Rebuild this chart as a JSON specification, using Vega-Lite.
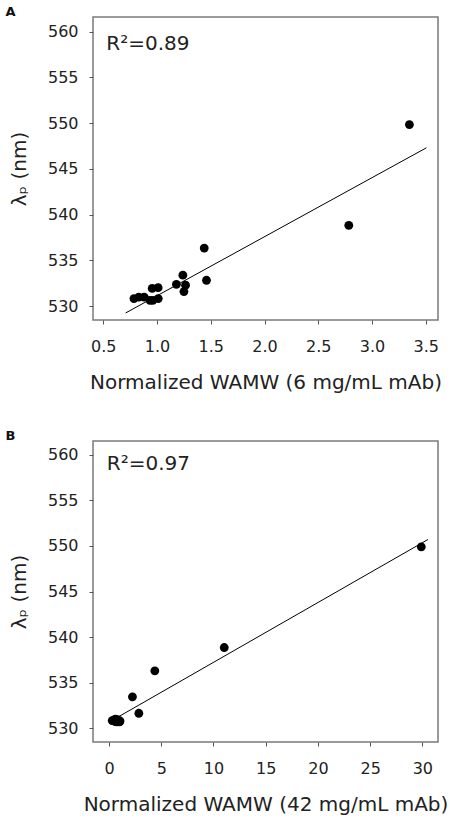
{
  "$schema": "https://vega.github.io/schema/vega-lite/v6.json",
  "padding": {"left": 4, "top": 5, "right": 5, "bottom": 5},
  "background": "white",
  "config": {
    "font": "DejaVu Sans",
    "view": {"stroke": "#7a7a7a", "strokeWidth": 1.5},
    "axis": {"grid": false, "domain": false, "tickColor": "#555", "tickSize": 4, "labelFont": "DejaVu Sans", "labelFontSize": 16, "labelColor": "#222", "titleFont": "DejaVu Sans", "titleFontSize": 20, "titleFontWeight": "normal", "titleColor": "#222"},
    "title": {"fontSize": 13, "fontWeight": "bold", "anchor": "start", "frame": "bounds", "color": "#111", "offset": -2, "dx": -4}
  },
  "spacing": 36,
  "vconcat": [
    {
      "title": {"text": "A"},
      "width": 345,
      "height": 303,
      "layer": [
        {
          "data": {"values": [
            {"wamw": 3.348, "lambda": 549.85}, {"wamw": 2.784, "lambda": 538.84}, {"wamw": 1.439, "lambda": 536.36},
            {"wamw": 1.46, "lambda": 532.84}, {"wamw": 1.24, "lambda": 533.4}, {"wamw": 1.18, "lambda": 532.4},
            {"wamw": 1.265, "lambda": 532.3}, {"wamw": 1.25, "lambda": 531.6}, {"wamw": 1.01, "lambda": 532.03},
            {"wamw": 0.955, "lambda": 531.95}, {"wamw": 1.011, "lambda": 530.84}, {"wamw": 0.934, "lambda": 530.65},
            {"wamw": 0.88, "lambda": 531.0}, {"wamw": 0.83, "lambda": 531.0}, {"wamw": 0.785, "lambda": 530.84},
            {"wamw": 0.96, "lambda": 530.65}
          ]},
          "mark": {"type": "circle", "size": 78, "color": "black", "opacity": 1},
          "encoding": {
            "x": {"field": "wamw", "type": "quantitative", "scale": {"domain": [0.404, 3.614], "nice": false, "zero": false},
                  "axis": {"values": [0.5, 1.0, 1.5, 2.0, 2.5, 3.0, 3.5], "format": ".1f", "title": "Normalized WAMW (6 mg/mL mAb)", "labelPadding": 14, "titlePadding": 18}},
            "y": {"field": "lambda", "type": "quantitative", "scale": {"domain": [528.5, 561.6], "nice": false, "zero": false},
                  "axis": {"values": [530, 535, 540, 545, 550, 555, 560], "title": "λₚ (nm)", "labelPadding": 11, "titlePadding": 18}}
          }
        },
        {
          "data": {"values": [{"wamw": 0.708, "lambda": 529.27}, {"wamw": 3.506, "lambda": 547.31}]},
          "mark": {"type": "line", "color": "black", "strokeWidth": 1},
          "encoding": {
            "x": {"field": "wamw", "type": "quantitative"},
            "y": {"field": "lambda", "type": "quantitative"}
          }
        },
        {
          "data": {"values": [{"wamw": 0.528, "lambda": 558.7, "label": "R²=0.89"}]},
          "mark": {"type": "text", "align": "left", "baseline": "middle", "fontSize": 20, "color": "#222"},
          "encoding": {
            "x": {"field": "wamw", "type": "quantitative"},
            "y": {"field": "lambda", "type": "quantitative"},
            "text": {"field": "label"}
          }
        }
      ]
    },
    {
      "title": {"text": "B"},
      "width": 345,
      "height": 301,
      "layer": [
        {
          "data": {"values": [
            {"wamw": 29.9, "lambda": 549.9}, {"wamw": 11.03, "lambda": 538.86}, {"wamw": 4.38, "lambda": 536.3},
            {"wamw": 2.24, "lambda": 533.45}, {"wamw": 2.85, "lambda": 531.65},
            {"wamw": 0.3, "lambda": 530.85}, {"wamw": 0.45, "lambda": 530.9}, {"wamw": 0.55, "lambda": 530.75},
            {"wamw": 0.65, "lambda": 530.85}, {"wamw": 0.75, "lambda": 530.7}, {"wamw": 0.85, "lambda": 530.8},
            {"wamw": 0.95, "lambda": 530.75}, {"wamw": 1.05, "lambda": 530.8}, {"wamw": 0.6, "lambda": 531.0},
            {"wamw": 0.8, "lambda": 530.95}, {"wamw": 1.0, "lambda": 530.7}
          ]},
          "mark": {"type": "circle", "size": 78, "color": "black", "opacity": 1},
          "encoding": {
            "x": {"field": "wamw", "type": "quantitative", "scale": {"domain": [-1.54, 31.5], "nice": false, "zero": false},
                  "axis": {"values": [0, 5, 10, 15, 20, 25, 30], "title": "Normalized WAMW (42 mg/mL mAb)", "labelPadding": 14, "titlePadding": 18}},
            "y": {"field": "lambda", "type": "quantitative", "scale": {"domain": [528.5, 561.5], "nice": false, "zero": false},
                  "axis": {"values": [530, 535, 540, 545, 550, 555, 560], "title": "λₚ (nm)", "labelPadding": 11, "titlePadding": 18}}
          }
        },
        {
          "data": {"values": [{"wamw": 0.8, "lambda": 531.2}, {"wamw": 30.54, "lambda": 550.7}]},
          "mark": {"type": "line", "color": "black", "strokeWidth": 1},
          "encoding": {
            "x": {"field": "wamw", "type": "quantitative"},
            "y": {"field": "lambda", "type": "quantitative"}
          }
        },
        {
          "data": {"values": [{"wamw": -0.22, "lambda": 558.97, "label": "R²=0.97"}]},
          "mark": {"type": "text", "align": "left", "baseline": "middle", "fontSize": 20, "color": "#222"},
          "encoding": {
            "x": {"field": "wamw", "type": "quantitative"},
            "y": {"field": "lambda", "type": "quantitative"},
            "text": {"field": "label"}
          }
        }
      ]
    }
  ]
}
